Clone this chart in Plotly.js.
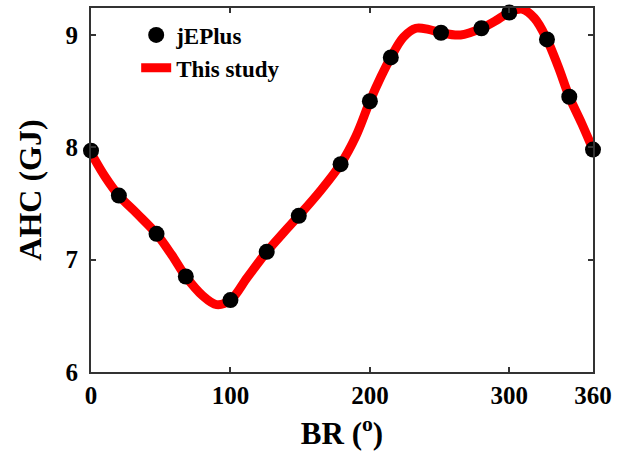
<!DOCTYPE html>
<html>
<head>
<meta charset="utf-8">
<script src="https://cdn.plot.ly/plotly-3.0.1.min.js"></script>
<style>
  html, body { margin: 0; padding: 0; background: #fff; }
  #chart { width: 622px; height: 465px; }
</style>
</head>
<body>
<div id="chart"></div>
<script>
// Building rotation (degrees) and annual heating/cooling energy (GJ)
const jeplusBR  = [0, 20, 47, 68, 100, 126, 149, 179, 200, 215, 251, 280, 300, 327, 343, 360];
const jeplusAHC = [7.97, 7.57, 7.23, 6.85, 6.64, 7.07, 7.39, 7.85, 8.41, 8.80, 9.02, 9.06, 9.20, 8.96, 8.45, 7.98];

// Curve of the present model
const studyBR  = [0, 10, 20, 33, 47, 58, 68, 80, 90, 100, 112, 126, 138, 149, 165, 179, 190, 200, 208, 215, 224, 233, 242, 251, 265, 280, 292, 300, 309, 318, 327, 335, 343, 352, 360];
const studyAHC = [7.95, 7.74, 7.57, 7.41, 7.23, 7.04, 6.85, 6.68, 6.60, 6.64, 6.84, 7.07, 7.24, 7.39, 7.62, 7.85, 8.10, 8.41, 8.63, 8.80, 8.98, 9.06, 9.05, 9.02, 9.00, 9.06, 9.14, 9.20, 9.23, 9.15, 8.96, 8.72, 8.45, 8.21, 7.98];

const xTicks = [0, 100, 200, 300, 360];
const yTicks = [6, 7, 8, 9];

const serif = 'Liberation Serif, Times New Roman, serif';

const traces = [
  {
    x: studyBR, y: studyAHC,
    type: 'scatter', mode: 'lines',
    name: 'This study',
    line: { color: '#ff0000', width: 9, shape: 'spline', smoothing: 1 },
    legendrank: 2
  },
  {
    x: jeplusBR, y: jeplusAHC,
    type: 'scatter', mode: 'markers',
    name: 'jEPlus',
    cliponaxis: false,
    marker: { color: '#000000', size: 16 },
    legendrank: 1
  }
];

const axisCommon = {
  showgrid: false,
  zeroline: false,
  showline: true,
  linecolor: '#333333',
  linewidth: 2,
  mirror: 'ticks',
  ticks: 'inside',
  ticklen: 5,
  tickwidth: 2,
  tickcolor: '#333333',
  tickfont: { family: serif, size: 25, color: '#000', weight: 'bold' }
};

const layout = {
  width: 622, height: 465,
  margin: { l: 91, r: 29, t: 8, b: 93 },
  paper_bgcolor: '#fff', plot_bgcolor: '#fff',
  showlegend: true,
  legend: {
    x: 0.09, y: 0.985, xanchor: 'left', yanchor: 'top',
    bgcolor: 'rgba(0,0,0,0)', borderwidth: 0,
    font: { family: serif, size: 23, color: '#000', weight: 'bold' },
    itemwidth: 30, tracegroupgap: 0
  },
  xaxis: Object.assign({}, axisCommon, {
    range: [0, 360],
    tickmode: 'array', tickvals: xTicks, ticktext: xTicks.map(String),
    title: { text: 'BR (<sup>o</sup>)', font: { family: serif, size: 31, color: '#000', weight: 'bold' }, standoff: 14 }
  }),
  yaxis: Object.assign({}, axisCommon, {
    range: [6, 9.24],
    tickmode: 'array', tickvals: yTicks, ticktext: yTicks.map(String),
    ticklabelstandoff: 6,
    title: { text: 'AHC (GJ)', font: { family: serif, size: 32, color: '#000', weight: 'bold' }, standoff: 14 }
  })
};

Plotly.newPlot('chart', traces, layout, { staticPlot: true, displayModeBar: false });
</script>
</body>
</html>
